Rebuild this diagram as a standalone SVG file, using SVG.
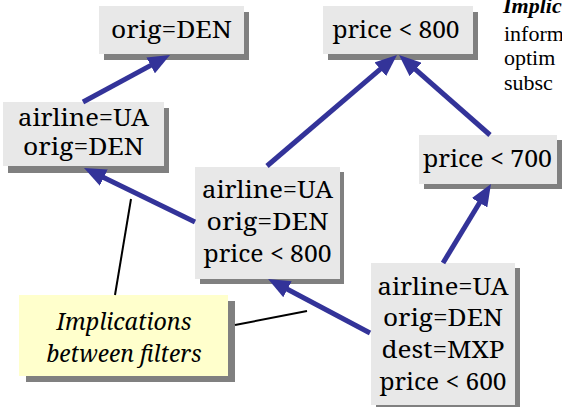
<svg xmlns="http://www.w3.org/2000/svg" width="562" height="407" viewBox="0 0 562 407" font-family="Noto Serif, Liberation Serif, serif">
<style>
.box{fill:#e8e8e8}
.sh{fill:#808080}
.note{fill:#ffffcc}
.t{font-size:23px;text-anchor:middle;fill:#000}
.it{font-style:italic}
.side{font-family:'Liberation Serif',serif;font-size:22px;fill:#000}
.arr{stroke:#333399;stroke-width:5;fill:none;marker-end:url(#ah)}
.ln{stroke:#000;stroke-width:2;fill:none}
</style>
<defs>
<marker id="ah" viewBox="0 0 22 18" refX="7" refY="9" markerWidth="22" markerHeight="18" markerUnits="userSpaceOnUse" orient="auto">
<path d="M0,0 L22,9 L0,18 z" fill="#333399"/>
</marker>
</defs>
<g id="side-text">
<text class="side it" x="503" y="13" font-weight="bold">Implic</text>
<text class="side" x="504" y="41">inform</text>
<text class="side" x="504" y="65">optim</text>
<text class="side" x="504" y="90">subsc</text>
</g>
<g id="n-orig">
<rect class="sh" x="104" y="12" width="145" height="48"/>
<rect class="box" x="99" y="6" width="145" height="48"/>
<text class="t" x="171.5" y="38" textLength="121" lengthAdjust="spacingAndGlyphs">orig=DEN</text>
</g>
<g id="n-p800">
<rect class="sh" x="328" y="12" width="150" height="48"/>
<rect class="box" x="323" y="6" width="150" height="48"/>
<text class="t" x="396" y="38" textLength="127" lengthAdjust="spacingAndGlyphs">price &lt; 800</text>
</g>
<g id="n-ua-orig">
<rect class="sh" x="8" y="108" width="161" height="65"/>
<rect class="box" x="3" y="102" width="161" height="64"/>
<text class="t" x="83.5" y="126" textLength="131" lengthAdjust="spacingAndGlyphs">airline=UA</text>
<text class="t" x="83.5" y="155" textLength="121" lengthAdjust="spacingAndGlyphs">orig=DEN</text>
</g>
<g id="n-p700">
<rect class="sh" x="424" y="140" width="138" height="49"/>
<rect class="box" x="419" y="135" width="138" height="49"/>
<text class="t" x="487.5" y="167" textLength="129" lengthAdjust="spacingAndGlyphs">price &lt; 700</text>
</g>
<g id="n-ua-orig-p800">
<rect class="sh" x="200" y="172" width="144" height="112"/>
<rect class="box" x="195" y="167" width="145" height="112"/>
<text class="t" x="267.5" y="198" textLength="131" lengthAdjust="spacingAndGlyphs">airline=UA</text>
<text class="t" x="267.5" y="230" textLength="122" lengthAdjust="spacingAndGlyphs">orig=DEN</text>
<text class="t" x="267.5" y="262" textLength="128" lengthAdjust="spacingAndGlyphs">price &lt; 800</text>
</g>
<g id="n-full">
<rect class="sh" x="376" y="268" width="144" height="145"/>
<rect class="box" x="371" y="263" width="144" height="142"/>
<text class="t" x="443" y="295" textLength="131" lengthAdjust="spacingAndGlyphs">airline=UA</text>
<text class="t" x="443" y="326" textLength="120" lengthAdjust="spacingAndGlyphs">orig=DEN</text>
<text class="t" x="443" y="358" textLength="123" lengthAdjust="spacingAndGlyphs">dest=MXP</text>
<text class="t" x="443" y="390" textLength="127" lengthAdjust="spacingAndGlyphs">price &lt; 600</text>
</g>
<g id="n-note">
<rect class="sh" x="26" y="301" width="209" height="81"/>
<rect class="note" x="19" y="295" width="209" height="81"/>
<text class="t it" x="124" y="330" textLength="135" lengthAdjust="spacingAndGlyphs">Implications</text>
<text class="t it" x="124" y="362" textLength="155" lengthAdjust="spacingAndGlyphs">between filters</text>
</g>
<g id="connectors">
<line class="arr" x1="83" y1="102" x2="156.8" y2="62.1"/>
<line class="arr" x1="267" y1="166" x2="385.6" y2="64.7"/>
<line class="arr" x1="490" y1="135" x2="410.3" y2="64.9"/>
<line class="arr" x1="195" y1="222" x2="97.5" y2="174.6"/>
<line class="arr" x1="443" y1="263" x2="483.2" y2="196.8"/>
<line class="arr" x1="370" y1="333" x2="281.3" y2="286"/>
<line class="ln" x1="131" y1="199" x2="115" y2="295"/>
<line class="ln" x1="235" y1="325" x2="307" y2="311"/>
</g>
</svg>
